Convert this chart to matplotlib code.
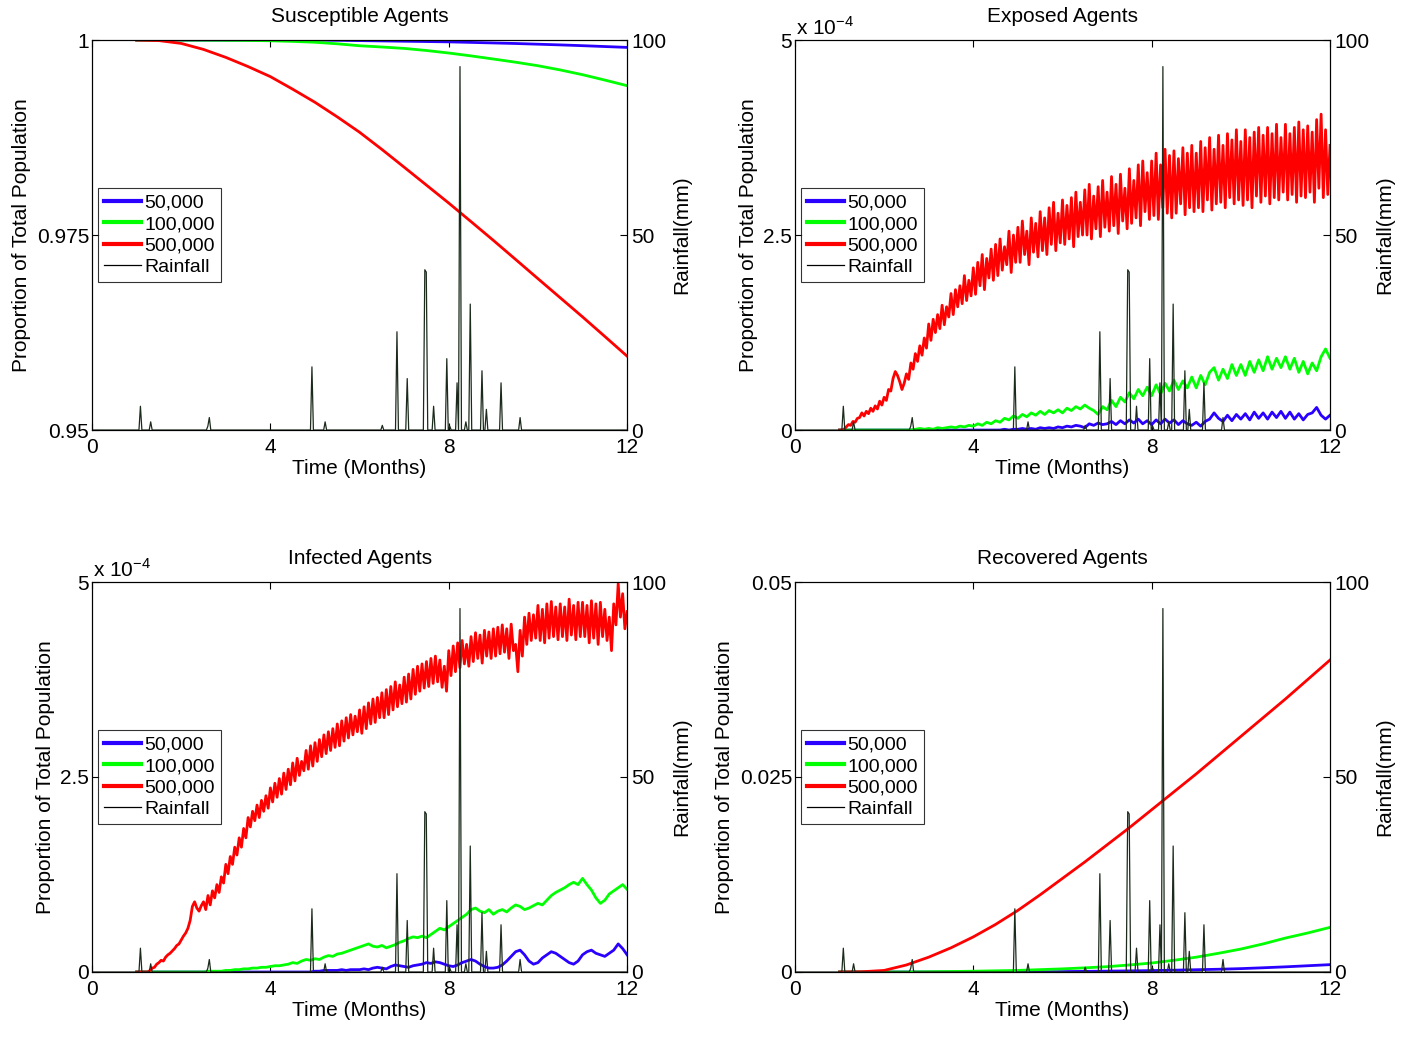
import numpy as np
import matplotlib
matplotlib.use("Agg")
import matplotlib.pyplot as plt
from matplotlib.lines import Line2D

plt.rcParams['font.family'] = ['Liberation Sans', 'DejaVu Sans']
plt.rcParams['mathtext.fontset'] = 'custom'
plt.rcParams['mathtext.rm'] = 'Liberation Sans'

# ---- rainfall (daily, mm) ----
rain_days = [33, 40, 79, 80, 150, 159, 198, 208, 215, 227, 228, 233, 242, 244,
             249, 251, 255, 258, 266, 269, 279, 292]
rain_mm = [6.1, 2.1, 1.0, 3.2, 16.2, 2.1, 1.2, 25.2, 13.2, 41.1, 40.5, 6.1, 18.3, 1.0,
           12.1, 93.2, 2.1, 32.3, 15.2, 5.3, 12.1, 3.2]

# ---- smooth series, every half month from month 1 to 12 ----
sus_blue = [1.0, 1.0, 1.0, 1.0, 1.0, 1.0, 1.0, 1.0, 1.0, 0.99997, 0.99993, 0.99989,
            0.99985, 0.99981, 0.99977, 0.99970, 0.99963, 0.99956, 0.99947, 0.99938,
            0.99928, 0.99917, 0.99906]
sus_green = [1.0, 1.0, 1.0, 0.99999, 0.99997, 0.99995, 0.99991, 0.99983, 0.99972,
             0.99952, 0.99927, 0.99911, 0.99893, 0.99866, 0.99834, 0.99797, 0.99757,
             0.99716, 0.99671, 0.99617, 0.99556, 0.99487, 0.99415]
sus_red = [1.0, 0.99993, 0.99957, 0.99880, 0.99778, 0.99660, 0.99531, 0.99370, 0.99202,
           0.99015, 0.98818, 0.98598, 0.98370, 0.98140, 0.97910, 0.97672, 0.97432,
           0.97187, 0.96941, 0.96696, 0.96451, 0.96200, 0.95947]

rec_blue = [0, 0, 0, 0, 0, 0, 0, 0, 0, 0.00002, 0.00005, 0.00008, 0.00011, 0.00014,
            0.00018, 0.00023, 0.00029, 0.00035, 0.00043, 0.00054, 0.00066, 0.0008, 0.00094]
rec_green = [0, 0, 0, 0, 0.00003, 0.00006, 0.0001, 0.00015, 0.0002, 0.0003, 0.0004,
             0.00053, 0.00068, 0.0009, 0.00115, 0.0015, 0.0019, 0.0024, 0.00294, 0.0036,
             0.00435, 0.0050, 0.00572]
rec_red = [0, 0.00003, 0.0002, 0.0009, 0.0019, 0.0031, 0.0045, 0.0061, 0.0079, 0.0099,
           0.0120, 0.0141, 0.0163, 0.0185, 0.0208, 0.0231, 0.0254, 0.0278, 0.0302,
           0.0326, 0.0350, 0.0375, 0.0400]

# ---- noisy series (units of 1e-4) ----
# red: every 0.05 month from 1 to 12
exp_red = [
    0.00, 0.00, 0.01, 0.04, 0.07, 0.06, 0.11, 0.10, 0.15, 0.16,
    0.22, 0.18, 0.24, 0.21, 0.28, 0.24, 0.31, 0.27, 0.37, 0.32,
    0.42, 0.38, 0.52, 0.50, 0.66, 0.75, 0.70, 0.62, 0.52, 0.60,
    0.72, 0.65, 0.86, 0.78, 0.98, 0.88, 1.08, 0.96, 1.18, 1.05,
    1.36, 1.15, 1.42, 1.25, 1.48, 1.30, 1.60, 1.35, 1.58, 1.45,
    1.75, 1.48, 1.80, 1.58, 1.85, 1.62, 1.98, 1.66, 1.92, 1.72,
    2.08, 1.74, 2.15, 1.85, 2.25, 1.80, 2.20, 1.95, 2.32, 1.92,
    2.38, 1.98, 2.45, 2.05, 2.35, 2.12, 2.55, 2.02, 2.50, 2.15,
    2.60, 2.15, 2.68, 2.25, 2.55, 2.12, 2.72, 2.28, 2.65, 2.22,
    2.80, 2.30, 2.72, 2.25, 2.85, 2.38, 2.92, 2.30, 2.78, 2.40,
    2.95, 2.38, 2.88, 2.45, 2.98, 2.35, 3.05, 2.48, 2.92, 2.50,
    3.08, 2.50, 3.15, 2.45, 3.00, 2.58, 3.12, 2.48, 3.20, 2.60,
    3.05, 2.55, 3.25, 2.62, 3.15, 2.52, 3.28, 2.68, 3.10, 2.58,
    3.35, 2.65, 3.20, 2.72, 3.40, 2.62, 3.45, 2.80, 3.30, 2.70,
    3.45, 2.75, 3.55, 2.70, 3.40, 2.85, 3.60, 2.78, 3.52, 2.72,
    3.58, 2.78, 3.48, 2.90, 3.62, 2.76, 3.55, 2.85, 3.65, 2.80,
    3.55, 2.85, 3.70, 2.80, 3.62, 2.95, 3.75, 2.82, 3.60, 2.90,
    3.78, 2.92, 3.65, 2.85, 3.80, 2.98, 3.72, 2.90, 3.85, 2.95,
    3.70, 2.88, 3.85, 2.95, 3.75, 2.85, 3.82, 3.00, 3.88, 2.92,
    3.78, 3.00, 3.88, 2.90, 3.80, 2.98, 3.92, 2.95, 3.75, 3.05,
    3.92, 2.95, 3.80, 3.02, 3.88, 2.92, 3.95, 3.00, 3.85, 2.98,
    3.90, 3.05, 3.82, 2.92, 3.98, 3.10, 4.05, 2.98, 3.85, 3.02,
    3.65]
inf_red = [
    0.00, 0.00, 0.00, 0.00, 0.00, 0.00, 0.02, 0.05, 0.06, 0.10,
    0.12, 0.15, 0.14, 0.19, 0.22, 0.24, 0.27, 0.30, 0.34, 0.36,
    0.41, 0.46, 0.50, 0.56, 0.66, 0.84, 0.90, 0.82, 0.78, 0.85,
    0.90, 0.80, 0.98, 0.86, 1.04, 0.95, 1.12, 1.02, 1.22, 1.14,
    1.38, 1.26, 1.48, 1.38, 1.60, 1.50, 1.72, 1.60, 1.84, 1.72,
    1.98, 1.86, 2.06, 1.94, 2.14, 1.98, 2.20, 2.06, 2.26, 2.10,
    2.36, 2.18, 2.42, 2.24, 2.48, 2.28, 2.55, 2.34, 2.60, 2.40,
    2.68, 2.45, 2.74, 2.52, 2.70, 2.58, 2.84, 2.60, 2.90, 2.64,
    2.94, 2.70, 2.98, 2.76, 3.04, 2.80, 3.08, 2.84, 3.12, 2.88,
    3.18, 2.90, 3.22, 2.96, 3.26, 3.00, 3.30, 3.04, 3.28, 3.08,
    3.36, 3.06, 3.40, 3.12, 3.45, 3.18, 3.50, 3.20, 3.52, 3.26,
    3.58, 3.26, 3.62, 3.30, 3.66, 3.36, 3.72, 3.40, 3.68, 3.44,
    3.78, 3.46, 3.82, 3.50, 3.88, 3.56, 3.92, 3.60, 3.95, 3.64,
    3.98, 3.66, 4.02, 3.70, 4.05, 3.72, 4.00, 3.65, 3.92, 3.60,
    4.12, 3.80, 4.18, 3.85, 4.22, 3.90, 4.25, 3.95, 4.20, 3.92,
    4.30, 3.98, 4.35, 4.02, 4.32, 3.96, 4.38, 4.05, 4.36, 4.02,
    4.40, 4.05, 4.42, 4.08, 4.45, 4.10, 4.40, 4.02, 4.46, 4.12,
    4.20, 3.85, 4.38, 4.05, 4.55, 4.20, 4.60, 4.25, 4.58, 4.28,
    4.70, 4.25, 4.65, 4.22, 4.72, 4.28, 4.75, 4.30, 4.68, 4.26,
    4.72, 4.30, 4.68, 4.25, 4.78, 4.32, 4.70, 4.26, 4.74, 4.30,
    4.74, 4.30, 4.70, 4.22, 4.76, 4.28, 4.72, 4.20, 4.74, 4.30,
    4.65, 4.25, 4.55, 4.12, 4.72, 4.45, 4.98, 4.55, 4.85, 4.40,
    4.62]

# green / blue: every 0.1 month from 1 to 12
exp_green = [
    0, 0, 0, 0, 0, 0, 0, 0, 0, 0,
    0, 0, 0, 0, 0, 0, 0, 0.01, 0.02, 0.01,
    0.02, 0.01, 0.03, 0.02, 0.03, 0.04, 0.03, 0.05, 0.04, 0.06,
    0.05, 0.08, 0.06, 0.10, 0.08, 0.12, 0.10, 0.15, 0.13, 0.18,
    0.15, 0.20, 0.17, 0.22, 0.19, 0.24, 0.20, 0.25, 0.22, 0.26,
    0.22, 0.28, 0.25, 0.30, 0.27, 0.32, 0.28, 0.25, 0.20, 0.30,
    0.26, 0.38, 0.30, 0.42, 0.36, 0.48, 0.40, 0.52, 0.44, 0.55,
    0.44, 0.58, 0.46, 0.60, 0.50, 0.64, 0.52, 0.63, 0.54, 0.68,
    0.54, 0.70, 0.58, 0.74, 0.80, 0.64, 0.78, 0.66, 0.84, 0.70,
    0.84, 0.70, 0.88, 0.74, 0.90, 0.76, 0.94, 0.78, 0.92, 0.80,
    0.94, 0.78, 0.92, 0.74, 0.88, 0.72, 0.86, 0.76, 0.94, 1.04,
    0.92]
exp_blue = [
    0, 0, 0, 0, 0, 0, 0, 0, 0, 0,
    0, 0, 0, 0, 0, 0, 0, 0, 0, 0,
    0, 0, 0, 0, 0, 0, 0, 0, 0, 0,
    0, 0, 0, 0, 0, 0, 0, 0.01, 0, 0.01,
    0.01, 0.02, 0.01, 0.02, 0.01, 0.03, 0.02, 0.03, 0.02, 0.04,
    0.03, 0.05, 0.04, 0.06, 0.05, 0.03, 0.08, 0.06, 0.09, 0.07,
    0.08, 0.11, 0.07, 0.12, 0.08, 0.13, 0.09, 0.14, 0.08, 0.12,
    0.07, 0.13, 0.08, 0.14, 0.09, 0.13, 0.07, 0.12, 0.08, 0.06,
    0.10, 0.05, 0.11, 0.14, 0.22, 0.15, 0.11, 0.19, 0.12, 0.20,
    0.14, 0.21, 0.13, 0.23, 0.15, 0.22, 0.14, 0.23, 0.16, 0.24,
    0.15, 0.23, 0.14, 0.21, 0.13, 0.20, 0.22, 0.29, 0.19, 0.14,
    0.19]
inf_green = [
    0, 0, 0, 0, 0, 0, 0, 0, 0, 0,
    0, 0, 0, 0, 0, 0, 0.01, 0.01, 0.01, 0.01,
    0.02, 0.02, 0.03, 0.03, 0.04, 0.04, 0.05, 0.05, 0.06, 0.06,
    0.07, 0.08, 0.08, 0.09, 0.10, 0.12, 0.11, 0.14, 0.16, 0.15,
    0.17, 0.16, 0.19, 0.21, 0.20, 0.23, 0.24, 0.26, 0.28, 0.30,
    0.32, 0.34, 0.36, 0.33, 0.32, 0.34, 0.31, 0.33, 0.35, 0.38,
    0.40, 0.43, 0.45, 0.44, 0.46, 0.44, 0.48, 0.52, 0.56, 0.54,
    0.58, 0.62, 0.66, 0.70, 0.74, 0.80, 0.82, 0.78, 0.76, 0.80,
    0.74, 0.78, 0.80, 0.77, 0.82, 0.86, 0.84, 0.80, 0.82, 0.85,
    0.88, 0.86, 0.92, 0.98, 1.02, 1.05, 1.08, 1.12, 1.15, 1.12,
    1.20, 1.12, 1.05, 0.95, 0.88, 0.92, 1.00, 1.04, 1.08, 1.12,
    1.06]
inf_blue = [
    0, 0, 0, 0, 0, 0, 0, 0, 0, 0,
    0, 0, 0, 0, 0, 0, 0, 0, 0, 0,
    0, 0, 0, 0, 0, 0, 0, 0, 0, 0,
    0, 0, 0, 0, 0, 0, 0, 0, 0, 0,
    0.01, 0.01, 0.02, 0.02, 0.02, 0.02, 0.03, 0.02, 0.03, 0.03,
    0.03, 0.04, 0.03, 0.05, 0.06, 0.05, 0.04, 0.07, 0.09, 0.08,
    0.07, 0.06, 0.08, 0.09, 0.10, 0.12, 0.11, 0.13, 0.12, 0.10,
    0.08, 0.07, 0.09, 0.12, 0.14, 0.16, 0.14, 0.10, 0.07, 0.05,
    0.05, 0.06, 0.09, 0.14, 0.20, 0.26, 0.28, 0.22, 0.14, 0.10,
    0.12, 0.18, 0.22, 0.26, 0.24, 0.20, 0.16, 0.12, 0.10, 0.14,
    0.22, 0.26, 0.28, 0.24, 0.22, 0.20, 0.24, 0.28, 0.36, 0.30,
    0.22]

labels = ['50,000', '100,000', '500,000', 'Rainfall']
BLUE, GREEN, RED, RAIN = '#2a00ff', '#00ff00', '#ff0000', '#1c2a1c'

t_half = np.linspace(1, 12, len(sus_red))
t_fine = np.linspace(1, 12, len(exp_red))
t_coarse = np.linspace(1, 12, len(exp_green))

rain = np.zeros(366)
rain[rain_days] = rain_mm
rain_t = np.arange(366) * 12 / 365

panels = [
    ('Susceptible Agents', [(t_half, sus_blue), (t_half, sus_green), (t_half, sus_red)],
     (0.95, 1.0), [0.95, 0.975, 1.0], ['0.95', '0.975', '1'], False),
    ('Exposed Agents', [(t_coarse, exp_blue), (t_coarse, exp_green), (t_fine, exp_red)],
     (0, 5), [0, 2.5, 5], ['0', '2.5', '5'], True),
    ('Infected Agents', [(t_coarse, inf_blue), (t_coarse, inf_green), (t_fine, inf_red)],
     (0, 5), [0, 2.5, 5], ['0', '2.5', '5'], True),
    ('Recovered Agents', [(t_half, rec_blue), (t_half, rec_green), (t_half, rec_red)],
     (0, 0.05), [0, 0.025, 0.05], ['0', '0.025', '0.05'], False),
]

fig = plt.figure(figsize=(14.14, 10.38), dpi=100)
lefts = [0.0651, 0.5622]
bottoms = [0.5857, 0.0636]
FS = 15

for i, (title, series, ylim, yt, ytl, expo) in enumerate(panels):
    ax = fig.add_axes([lefts[i % 2], bottoms[i // 2], 0.3784, 0.3757])
    for (tt, yy), c in zip(series, [BLUE, GREEN, RED]):
        ax.plot(tt, yy, color=c, lw=2)
    ax.set_xlim(0, 12)
    ax.set_ylim(*ylim)
    ax.set_xticks([0, 4, 8, 12])
    ax.set_yticks(yt)
    ax.set_yticklabels(ytl)
    ax.tick_params(direction='in', length=5, labelsize=FS, top=True)
    ax.tick_params(axis='x', pad=6)
    ax.tick_params(axis='y', pad=2)
    ax.set_title(title, fontsize=FS, pad=13)
    ax.set_xlabel('Time (Months)', fontsize=FS, labelpad=1)
    ax.set_ylabel('Proportion of Total Population', fontsize=FS)
    if expo:
        ax.text(0.002, 1.004, r'x 10$^{\mathregular{-4}}$', transform=ax.transAxes,
                ha='left', va='bottom', fontsize=FS)

    ax2 = ax.twinx()
    ax2.plot(rain_t, rain, color=RAIN, lw=0.9)
    ax2.set_ylim(0, 100)
    ax2.set_yticks([0, 50, 100])
    ax2.tick_params(direction='in', length=5, labelsize=FS, pad=3)
    ax2.set_ylabel('Rainfall(mm)', fontsize=FS)

    handles = [Line2D([], [], color=BLUE, lw=3), Line2D([], [], color=GREEN, lw=3),
               Line2D([], [], color=RED, lw=3), Line2D([], [], color='black', lw=0.9)]
    leg = ax2.legend(handles, labels, loc='center left', bbox_to_anchor=(0.011, 0.5),
                     fontsize=14, frameon=True, fancybox=False, borderaxespad=0,
                     handlelength=1.9, handletextpad=0.2, labelspacing=0.2,
                     borderpad=0.3)
    leg.get_frame().set_edgecolor('black')
    leg.get_frame().set_linewidth(0.8)

fig.savefig('out.png', dpi=100)
